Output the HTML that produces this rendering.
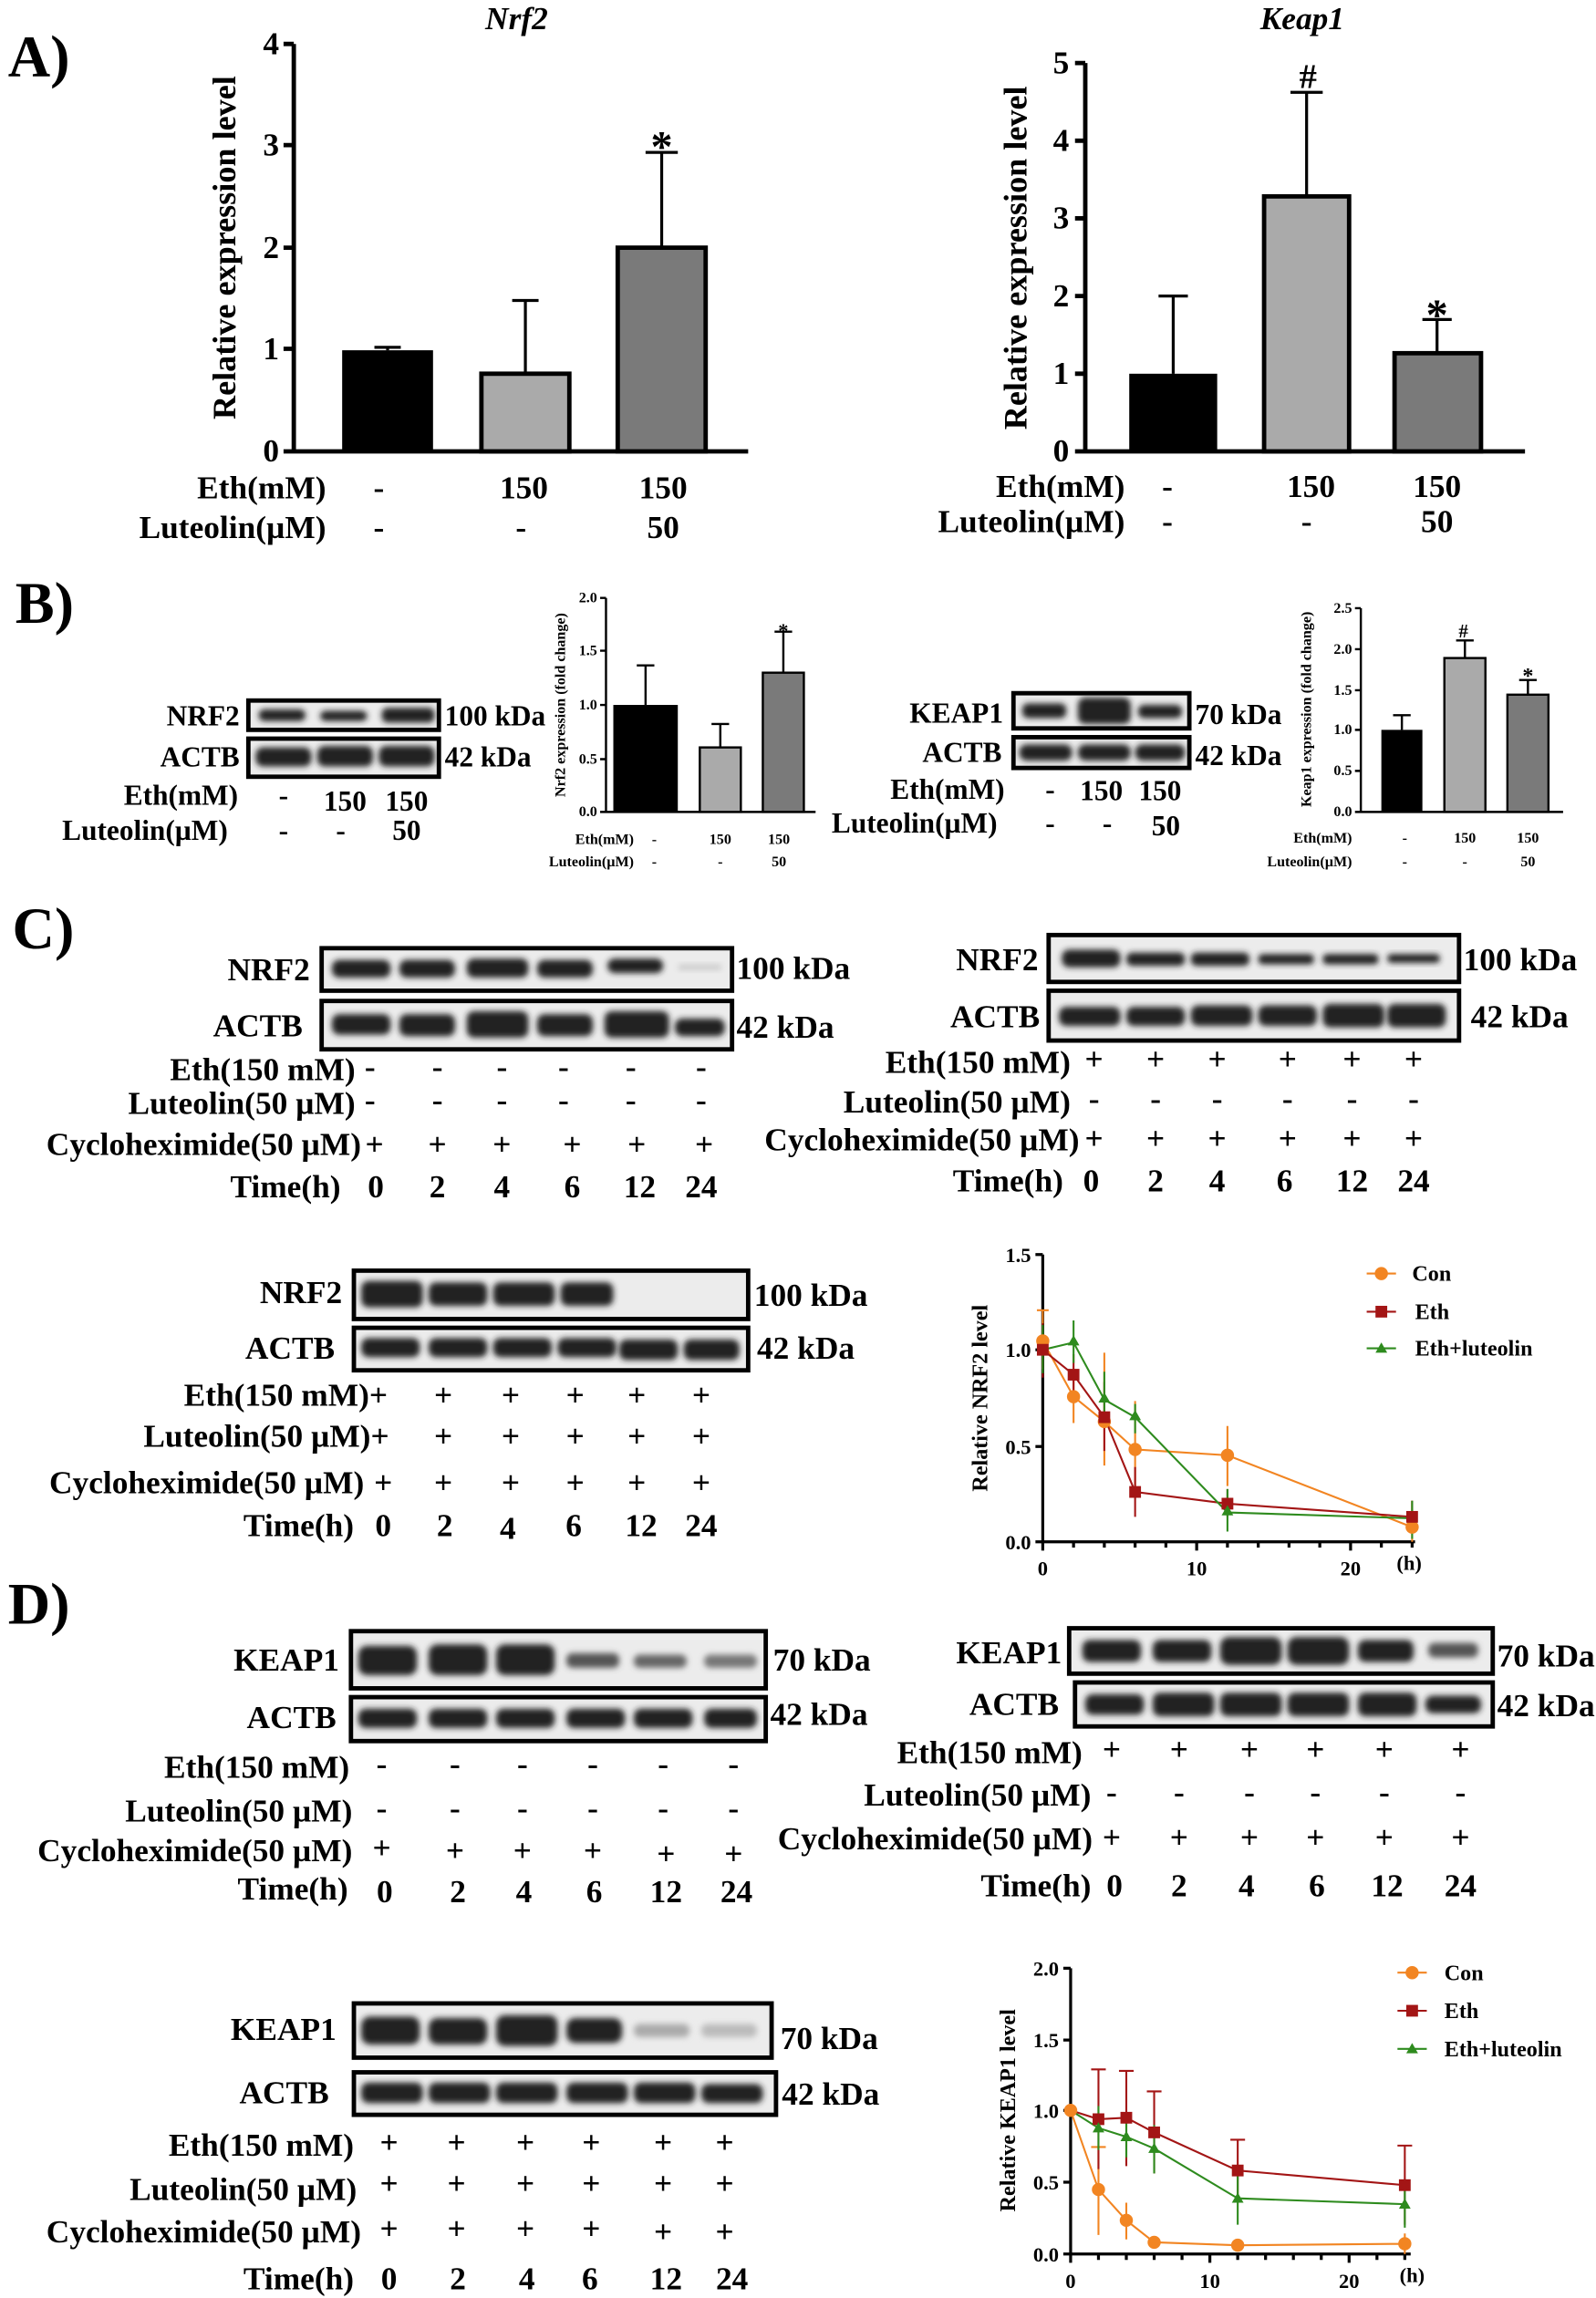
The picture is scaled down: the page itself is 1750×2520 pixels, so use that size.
<!DOCTYPE html>
<html><head><meta charset="utf-8"><style>
html,body{margin:0;padding:0;background:#fff}
svg{display:block}
text{font-family:"Liberation Serif",serif;font-weight:bold;fill:#000}
.t{font-size:22px}
.u{font-size:19.5px}
.s{font-size:10px}
.r{text-anchor:end}
.m{text-anchor:middle}
.ax{stroke:#000;stroke-width:3;fill:none}
.ax2{stroke:#000;stroke-width:1.5;fill:none}
.box{fill:#ececec;stroke:#000;stroke-width:3}
.b{fill:#222;filter:url(#bl)}
</style></head><body>
<svg width="1750" height="2520" viewBox="0 0 1088 1568" xmlns="http://www.w3.org/2000/svg">
<defs><filter id="bl" x="-20%" y="-50%" width="140%" height="200%"><feGaussianBlur stdDeviation="2"/></filter></defs>
<rect width="1088" height="1568" fill="#fff"/>

<!-- A -->
<text x="5" y="52" style="font-size:40px">A)</text>
<text x="352" y="20" class="m" style="font-size:22px;font-style:italic">Nrf2</text>
<path class="ax" d="M200,30V308H510M193,30H200M193,99H200M193,169H200M193,238H200M193,308H200"/>
<text x="190" y="37" class="t r">4</text><text x="190" y="106" class="t r">3</text><text x="190" y="176" class="t r">2</text><text x="190" y="245" class="t r">1</text><text x="190" y="315" class="t r">0</text>
<text transform="translate(160,169) rotate(-90)" class="m" style="font-size:22.5px">Relative expression level</text>
<rect x="233" y="239" width="62" height="69" fill="#000"/>
<rect x="328" y="255" width="60" height="53" fill="#aaa" stroke="#000" stroke-width="3"/>
<rect x="421" y="169" width="60" height="139" fill="#7a7a7a" stroke="#000" stroke-width="3"/>
<path class="ax2" d="M264,239V237M255,237H273M358,255V205M349,205H367M451,169V104M440,104H462" style="stroke-width:2"/>
<text x="451" y="110" class="m" style="font-size:30px">*</text>
<text x="222" y="340" class="t r">Eth(mM)</text><text x="258" y="340" class="t m">-</text><text x="357" y="340" class="t m">150</text><text x="452" y="340" class="t m">150</text>
<text x="222" y="367" class="t r">Luteolin(µM)</text><text x="258" y="367" class="t m">-</text><text x="355" y="367" class="t m">-</text><text x="452" y="367" class="t m">50</text>

<text x="888" y="20" class="m" style="font-size:22px;font-style:italic">Keap1</text>
<path class="ax" d="M740,43V308H1040M733,43H740M733,96H740M733,149H740M733,202H740M733,255H740M733,308H740"/>
<text x="729" y="50" class="t r">5</text><text x="729" y="103" class="t r">4</text><text x="729" y="156" class="t r">3</text><text x="729" y="209" class="t r">2</text><text x="729" y="262" class="t r">1</text><text x="729" y="315" class="t r">0</text>
<text transform="translate(700,176) rotate(-90)" class="m" style="font-size:22.5px">Relative expression level</text>
<rect x="770" y="255" width="60" height="53" fill="#000"/>
<rect x="862" y="134" width="58" height="174" fill="#aaa" stroke="#000" stroke-width="3"/>
<rect x="951" y="241" width="59" height="67" fill="#7a7a7a" stroke="#000" stroke-width="3"/>
<path class="ax2" d="M800,255V202M790,202H810M891,134V63M880,63H902M980,241V218M970,218H990" style="stroke-width:2"/>
<text x="892" y="60" class="m" style="font-size:24px">#</text>
<text x="980" y="225" class="m" style="font-size:30px">*</text>
<text x="767" y="339" class="t r">Eth(mM)</text><text x="796" y="339" class="t m">-</text><text x="894" y="339" class="t m">150</text><text x="980" y="339" class="t m">150</text>
<text x="767" y="363" class="t r">Luteolin(µM)</text><text x="796" y="363" class="t m">-</text><text x="891" y="363" class="t m">-</text><text x="980" y="363" class="t m">50</text>

<!-- B -->
<text x="10" y="425" style="font-size:40px">B)</text>
<rect x="169" y="478" width="130" height="20" class="box"/>
<rect x="176" y="484" width="32" height="8" rx="4" class="b"/><rect x="218" y="485" width="32" height="7" rx="4" class="b"/><rect x="260" y="483" width="36" height="10" rx="4" class="b"/>
<rect x="169" y="504" width="130" height="26" class="box"/>
<rect x="174" y="510" width="38" height="13" rx="5" class="b"/><rect x="216" y="509" width="38" height="14" rx="5" class="b"/><rect x="258" y="509" width="38" height="14" rx="5" class="b"/>
<text x="163" y="495" class="u r">NRF2</text><text x="163" y="523" class="u r">ACTB</text>
<text x="303" y="495" class="u">100 kDa</text><text x="303" y="523" class="u">42 kDa</text>
<text x="162" y="549" class="u r">Eth(mM)</text><text x="193" y="549" class="u m">-</text><text x="235" y="553" class="u m">150</text><text x="277" y="553" class="u m">150</text>
<text x="155" y="573" class="u r">Luteolin(µM)</text><text x="193" y="573" class="u m">-</text><text x="232" y="573" class="u m">-</text><text x="277" y="573" class="u m">50</text>

<path class="ax2" d="M413,408V554H556M409,408H413M409,444H413M409,481H413M409,518H413M409,554H413"/>
<text x="407" y="411" class="s r">2.0</text><text x="407" y="447" class="s r">1.5</text><text x="407" y="484" class="s r">1.0</text><text x="407" y="521" class="s r">0.5</text><text x="407" y="557" class="s r">0.0</text>
<text transform="translate(385,481) rotate(-90)" class="s m">Nrf2 expression (fold change)</text>
<rect x="418" y="481" width="44" height="73" fill="#000"/>
<rect x="477" y="510" width="28" height="44" fill="#aaa" stroke="#000" stroke-width="1.5"/>
<rect x="520" y="459" width="28" height="95" fill="#7a7a7a" stroke="#000" stroke-width="1.5"/>
<path class="ax2" d="M440,481V454M434,454H446M491,510V494M485,494H497M534,459V431M528,431H540"/>
<text x="534" y="435" class="m" style="font-size:14px">*</text>
<text x="432" y="576" class="s r">Eth(mM)</text><text x="446" y="576" class="s m">-</text><text x="491" y="576" class="s m">150</text><text x="531" y="576" class="s m">150</text>
<text x="432" y="591" class="s r">Luteolin(µM)</text><text x="446" y="591" class="s m">-</text><text x="491" y="591" class="s m">-</text><text x="531" y="591" class="s m">50</text>

<rect x="691" y="473" width="120" height="24" class="box"/>
<rect x="697" y="480" width="30" height="10" rx="4" class="b"/><rect x="735" y="476" width="36" height="18" rx="5" class="b"/><rect x="776" y="481" width="30" height="9" rx="4" class="b"/>
<rect x="691" y="503" width="120" height="21" class="box"/>
<rect x="695" y="508" width="36" height="11" rx="5" class="b"/><rect x="735" y="508" width="36" height="11" rx="5" class="b"/><rect x="774" y="508" width="34" height="11" rx="5" class="b"/>
<text x="684" y="493" class="u r">KEAP1</text><text x="683" y="520" class="u r">ACTB</text>
<text x="815" y="494" class="u">70 kDa</text><text x="815" y="522" class="u">42 kDa</text>
<text x="685" y="545" class="u r">Eth(mM)</text><text x="716" y="545" class="u m">-</text><text x="751" y="546" class="u m">150</text><text x="791" y="546" class="u m">150</text>
<text x="680" y="568" class="u r">Luteolin(µM)</text><text x="716" y="568" class="u m">-</text><text x="755" y="568" class="u m">-</text><text x="795" y="570" class="u m">50</text>

<path class="ax2" d="M928,415V554H1066M924,415H928M924,443H928M924,471H928M924,498H928M924,526H928M924,554H928"/>
<text x="922" y="418" class="s r">2.5</text><text x="922" y="446" class="s r">2.0</text><text x="922" y="474" class="s r">1.5</text><text x="922" y="501" class="s r">1.0</text><text x="922" y="529" class="s r">0.5</text><text x="922" y="557" class="s r">0.0</text>
<text transform="translate(894,484) rotate(-90)" class="s m">Keap1 expression (fold change)</text>
<rect x="942" y="498" width="28" height="56" fill="#000"/>
<rect x="985" y="449" width="28" height="105" fill="#aaa" stroke="#000" stroke-width="1.5"/>
<rect x="1028" y="474" width="28" height="80" fill="#7a7a7a" stroke="#000" stroke-width="1.5"/>
<path class="ax2" d="M956,498V488M950,488H962M999,449V437M993,437H1005M1042,474V464M1036,464H1048"/>
<text x="998" y="435" class="m" style="font-size:13px">#</text><text x="1042" y="466" class="m" style="font-size:15px">*</text>
<text x="922" y="575" class="s r">Eth(mM)</text><text x="958" y="575" class="s m">-</text><text x="999" y="575" class="s m">150</text><text x="1042" y="575" class="s m">150</text>
<text x="922" y="591" class="s r">Luteolin(µM)</text><text x="958" y="591" class="s m">-</text><text x="999" y="591" class="s m">-</text><text x="1042" y="591" class="s m">50</text>

<!-- C -->
<text x="8" y="647" style="font-size:40px">C)</text>
<rect x="219" y="647" width="280" height="29" class="box"/>
<rect x="226" y="655" width="40" height="12" rx="5" class="b"/><rect x="272" y="655" width="38" height="12" rx="5" class="b"/><rect x="318" y="654" width="42" height="13" rx="5" class="b"/><rect x="366" y="655" width="38" height="12" rx="5" class="b"/><rect x="414" y="654" width="38" height="10" rx="5" class="b"/><rect x="462" y="658" width="30" height="4" rx="2" style="fill:#ccc;filter:url(#bl)"/>
<rect x="219" y="683" width="280" height="33" class="box"/>
<rect x="226" y="692" width="40" height="14" rx="5" class="b"/><rect x="272" y="692" width="38" height="15" rx="5" class="b"/><rect x="318" y="690" width="42" height="18" rx="5" class="b"/><rect x="366" y="692" width="38" height="15" rx="5" class="b"/><rect x="412" y="690" width="44" height="18" rx="5" class="b"/><rect x="460" y="695" width="34" height="12" rx="5" class="b"/>
<text x="211" y="669" class="t r">NRF2</text><text x="206" y="707" class="t r">ACTB</text>
<text x="502" y="668" class="t">100 kDa</text><text x="502" y="708" class="t">42 kDa</text>
<text x="242" y="737" class="t r">Eth(150 mM)</text><text x="242" y="760" class="t r">Luteolin(50 µM)</text><text x="246" y="788" class="t r">Cycloheximide(50 µM)</text><text x="232" y="817" class="t r">Time(h)</text>
<text x="252" y="735" class="t m">-</text><text x="298" y="735" class="t m">-</text><text x="342" y="735" class="t m">-</text><text x="384" y="735" class="t m">-</text><text x="430" y="735" class="t m">-</text><text x="478" y="735" class="t m">-</text>
<text x="252" y="758" class="t m">-</text><text x="298" y="758" class="t m">-</text><text x="342" y="758" class="t m">-</text><text x="384" y="758" class="t m">-</text><text x="430" y="758" class="t m">-</text><text x="478" y="758" class="t m">-</text>
<text x="255" y="788" class="t m">+</text><text x="298" y="788" class="t m">+</text><text x="342" y="788" class="t m">+</text><text x="390" y="788" class="t m">+</text><text x="434" y="788" class="t m">+</text><text x="480" y="788" class="t m">+</text>
<text x="256" y="817" class="t m">0</text><text x="298" y="817" class="t m">2</text><text x="342" y="817" class="t m">4</text><text x="390" y="817" class="t m">6</text><text x="436" y="817" class="t m">12</text><text x="478" y="817" class="t m">24</text>

<rect x="715" y="638" width="280" height="32" class="box"/>
<rect x="724" y="648" width="40" height="12" rx="5" class="b"/><rect x="768" y="650" width="40" height="9" rx="4" class="b"/><rect x="812" y="650" width="40" height="9" rx="4" class="b"/><rect x="858" y="651" width="38" height="7" rx="3" class="b"/><rect x="902" y="651" width="38" height="7" rx="3" class="b"/><rect x="946" y="651" width="36" height="6" rx="3" class="b"/>
<rect x="715" y="676" width="280" height="34" class="box"/>
<rect x="722" y="687" width="42" height="13" rx="5" class="b"/><rect x="768" y="687" width="40" height="13" rx="5" class="b"/><rect x="812" y="686" width="42" height="14" rx="5" class="b"/><rect x="858" y="686" width="40" height="14" rx="5" class="b"/><rect x="902" y="685" width="42" height="16" rx="5" class="b"/><rect x="946" y="685" width="40" height="16" rx="5" class="b"/>
<text x="708" y="662" class="t r">NRF2</text><text x="709" y="701" class="t r">ACTB</text>
<text x="998" y="662" class="t">100 kDa</text><text x="1003" y="701" class="t">42 kDa</text>
<text x="730" y="732" class="t r">Eth(150 mM)</text><text x="730" y="759" class="t r">Luteolin(50 µM)</text><text x="736" y="785" class="t r">Cycloheximide(50 µM)</text><text x="725" y="813" class="t r">Time(h)</text>
<text x="746" y="730" class="t m">+</text><text x="788" y="730" class="t m">+</text><text x="830" y="730" class="t m">+</text><text x="878" y="730" class="t m">+</text><text x="922" y="730" class="t m">+</text><text x="964" y="730" class="t m">+</text>
<text x="746" y="757" class="t m">-</text><text x="788" y="757" class="t m">-</text><text x="830" y="757" class="t m">-</text><text x="878" y="757" class="t m">-</text><text x="922" y="757" class="t m">-</text><text x="964" y="757" class="t m">-</text>
<text x="746" y="784" class="t m">+</text><text x="788" y="784" class="t m">+</text><text x="830" y="784" class="t m">+</text><text x="878" y="784" class="t m">+</text><text x="922" y="784" class="t m">+</text><text x="964" y="784" class="t m">+</text>
<text x="744" y="813" class="t m">0</text><text x="788" y="813" class="t m">2</text><text x="830" y="813" class="t m">4</text><text x="876" y="813" class="t m">6</text><text x="922" y="813" class="t m">12</text><text x="964" y="813" class="t m">24</text>

<rect x="241" y="867" width="269" height="33" class="box"/>
<rect x="246" y="874" width="42" height="18" rx="5" class="b"/><rect x="292" y="875" width="40" height="16" rx="5" class="b"/><rect x="336" y="875" width="42" height="16" rx="5" class="b"/><rect x="382" y="875" width="36" height="16" rx="5" class="b"/>
<rect x="241" y="906" width="269" height="29" class="box"/>
<rect x="246" y="913" width="40" height="13" rx="5" class="b"/><rect x="292" y="913" width="40" height="13" rx="5" class="b"/><rect x="336" y="913" width="40" height="13" rx="5" class="b"/><rect x="380" y="913" width="40" height="13" rx="5" class="b"/><rect x="422" y="914" width="40" height="14" rx="5" class="b"/><rect x="466" y="914" width="38" height="14" rx="5" class="b"/>
<text x="233" y="889" class="t r">NRF2</text><text x="228" y="927" class="t r">ACTB</text>
<text x="514" y="891" class="t">100 kDa</text><text x="516" y="927" class="t">42 kDa</text>
<text x="264" y="959" class="t r">Eth(150 mM)+</text><text x="265" y="987" class="t r">Luteolin(50 µM)+</text><text x="248" y="1019" class="t r">Cycloheximide(50 µM)</text><text x="241" y="1048" class="t r">Time(h)</text>
<text x="302" y="959" class="t m">+</text><text x="348" y="959" class="t m">+</text><text x="392" y="959" class="t m">+</text><text x="434" y="959" class="t m">+</text><text x="478" y="959" class="t m">+</text>
<text x="302" y="987" class="t m">+</text><text x="348" y="987" class="t m">+</text><text x="392" y="987" class="t m">+</text><text x="434" y="987" class="t m">+</text><text x="478" y="987" class="t m">+</text>
<text x="261" y="1019" class="t m">+</text><text x="302" y="1019" class="t m">+</text><text x="348" y="1019" class="t m">+</text><text x="392" y="1019" class="t m">+</text><text x="434" y="1019" class="t m">+</text><text x="478" y="1019" class="t m">+</text>
<text x="261" y="1048" class="t m">0</text><text x="303" y="1048" class="t m">2</text><text x="346" y="1050" class="t m">4</text><text x="391" y="1048" class="t m">6</text><text x="437" y="1048" class="t m">12</text><text x="478" y="1048" class="t m">24</text>

<!-- line chart 1 -->
<path class="ax" style="stroke-width:2" d="M711,856V1052H965M706,856H711M706,921H711M706,987H711M706,1052H711M711,1052v6M732,1052v4M753,1052v4M774,1052v4M795,1052v4M816,1052v6M837,1052v4M858,1052v4M879,1052v4M900,1052v4M921,1052v6M942,1052v4M963,1052v4"/>
<text x="703" y="861" class="r" style="font-size:14px">1.5</text><text x="703" y="926" class="r" style="font-size:14px">1.0</text><text x="703" y="992" class="r" style="font-size:14px">0.5</text><text x="703" y="1057" class="r" style="font-size:14px">0.0</text>
<text x="711" y="1075" class="m" style="font-size:14px">0</text><text x="816" y="1075" class="m" style="font-size:14px">10</text><text x="921" y="1075" class="m" style="font-size:14px">20</text><text x="961" y="1071" class="m" style="font-size:14px">(h)</text>
<text transform="translate(673,954) rotate(-90)" class="m" style="font-size:15px">Relative NRF2 level</text>
<g fill="none" stroke-width="1.3">
<path stroke="#f28522" d="M711,915L732,953L753,970L774,989L837,993L963,1042M711,894V934M707,894H715M732,935V971M753,923V1000M774,956V1018M837,973V1014M963,1024V1052"/>
<path stroke="#a31515" d="M711,921L732,938L753,967L774,1018L837,1026L963,1035M711,903V940M732,924V951M753,943V990M774,1001V1035M837,1016V1035M963,1024V1045"/>
<path stroke="#2e8b1e" d="M711,921L732,916L753,955L774,967L837,1032L963,1036M711,904V937M732,901V930M753,936V974M774,958V978M837,1016V1045M963,1024V1050"/>
</g>
<g fill="#f28522"><circle cx="711" cy="915" r="4.5"/><circle cx="732" cy="953" r="4.5"/><circle cx="753" cy="970" r="4.5"/><circle cx="774" cy="989" r="4.5"/><circle cx="837" cy="993" r="4.5"/><circle cx="963" cy="1042" r="4.5"/></g>
<g fill="#a31515"><rect x="707" y="917" width="8" height="8"/><rect x="728" y="934" width="8" height="8"/><rect x="749" y="963" width="8" height="8"/><rect x="770" y="1014" width="8" height="8"/><rect x="833" y="1022" width="8" height="8"/><rect x="959" y="1031" width="8" height="8"/></g>
<g fill="#2e8b1e"><path d="M732,911l4,7h-8zM753,950l4,7h-8zM774,962l4,7h-8zM837,1027l4,7h-8z"/></g>
<path d="M932,869H952" stroke="#f28522" stroke-width="1.3"/><circle cx="942" cy="869" r="4.5" fill="#f28522"/><text x="963" y="874" style="font-size:15px">Con</text>
<path d="M932,895H952" stroke="#a31515" stroke-width="1.3"/><rect x="938" y="891" width="8" height="8" fill="#a31515"/><text x="965" y="900" style="font-size:15px">Eth</text>
<path d="M932,920H952" stroke="#2e8b1e" stroke-width="1.3"/><path d="M942,916l4,7h-8z" fill="#2e8b1e"/><text x="965" y="925" style="font-size:15px">Eth+luteolin</text>

<!-- D -->
<text x="5" y="1108" style="font-size:40px">D)</text>
<rect x="239" y="1113" width="283" height="39" class="box"/>
<rect x="244" y="1123" width="40" height="20" rx="6" class="b"/><rect x="292" y="1122" width="40" height="21" rx="6" class="b"/><rect x="338" y="1122" width="40" height="21" rx="6" class="b"/><rect x="386" y="1128" width="36" height="10" rx="4" style="fill:#555;filter:url(#bl)"/><rect x="432" y="1129" width="36" height="9" rx="4" style="fill:#666;filter:url(#bl)"/><rect x="480" y="1129" width="36" height="9" rx="4" style="fill:#777;filter:url(#bl)"/>
<rect x="239" y="1158" width="283" height="30" class="box"/>
<rect x="244" y="1166" width="40" height="13" rx="5" class="b"/><rect x="292" y="1166" width="40" height="13" rx="5" class="b"/><rect x="338" y="1166" width="40" height="13" rx="5" class="b"/><rect x="386" y="1166" width="40" height="13" rx="5" class="b"/><rect x="432" y="1166" width="40" height="13" rx="5" class="b"/><rect x="480" y="1166" width="36" height="13" rx="5" class="b"/>
<text x="231" y="1140" class="t r">KEAP1</text><text x="229" y="1179" class="t r">ACTB</text>
<text x="527" y="1140" class="t">70 kDa</text><text x="525" y="1177" class="t">42 kDa</text>
<text x="238" y="1213" class="t r">Eth(150 mM)</text><text x="240" y="1243" class="t r">Luteolin(50 µM)</text><text x="240" y="1270" class="t r">Cycloheximide(50 µM)</text><text x="237" y="1296" class="t r">Time(h)</text>
<text x="260" y="1211" class="t m">-</text><text x="310" y="1211" class="t m">-</text><text x="356" y="1211" class="t m">-</text><text x="404" y="1211" class="t m">-</text><text x="452" y="1211" class="t m">-</text><text x="500" y="1211" class="t m">-</text>
<text x="260" y="1241" class="t m">-</text><text x="310" y="1241" class="t m">-</text><text x="356" y="1241" class="t m">-</text><text x="404" y="1241" class="t m">-</text><text x="452" y="1241" class="t m">-</text><text x="500" y="1241" class="t m">-</text>
<text x="260" y="1268" class="t m">+</text><text x="310" y="1270" class="t m">+</text><text x="356" y="1270" class="t m">+</text><text x="404" y="1270" class="t m">+</text><text x="454" y="1272" class="t m">+</text><text x="500" y="1272" class="t m">+</text>
<text x="262" y="1298" class="t m">0</text><text x="312" y="1298" class="t m">2</text><text x="357" y="1298" class="t m">4</text><text x="405" y="1298" class="t m">6</text><text x="454" y="1298" class="t m">12</text><text x="502" y="1298" class="t m">24</text>

<rect x="729" y="1111" width="289" height="31" class="box"/>
<rect x="738" y="1119" width="40" height="15" rx="5" class="b"/><rect x="786" y="1119" width="40" height="15" rx="5" class="b"/><rect x="832" y="1117" width="42" height="19" rx="6" class="b"/><rect x="878" y="1117" width="42" height="19" rx="6" class="b"/><rect x="926" y="1119" width="38" height="15" rx="5" class="b"/><rect x="974" y="1121" width="34" height="10" rx="4" style="fill:#555;filter:url(#bl)"/>
<rect x="733" y="1148" width="285" height="30" class="box"/>
<rect x="740" y="1156" width="40" height="14" rx="5" class="b"/><rect x="786" y="1155" width="42" height="16" rx="5" class="b"/><rect x="832" y="1155" width="42" height="16" rx="5" class="b"/><rect x="878" y="1155" width="42" height="16" rx="5" class="b"/><rect x="926" y="1155" width="40" height="16" rx="5" class="b"/><rect x="972" y="1157" width="38" height="12" rx="5" class="b"/>
<text x="724" y="1135" class="t r">KEAP1</text><text x="722" y="1170" class="t r">ACTB</text>
<text x="1021" y="1137" class="t">70 kDa</text><text x="1021" y="1171" class="t">42 kDa</text>
<text x="738" y="1203" class="t r">Eth(150 mM)</text><text x="744" y="1232" class="t r">Luteolin(50 µM)</text><text x="745" y="1262" class="t r">Cycloheximide(50 µM)</text><text x="744" y="1294" class="t r">Time(h)</text>
<text x="758" y="1201" class="t m">+</text><text x="804" y="1201" class="t m">+</text><text x="852" y="1201" class="t m">+</text><text x="897" y="1201" class="t m">+</text><text x="944" y="1201" class="t m">+</text><text x="996" y="1201" class="t m">+</text>
<text x="758" y="1230" class="t m">-</text><text x="804" y="1230" class="t m">-</text><text x="852" y="1230" class="t m">-</text><text x="897" y="1230" class="t m">-</text><text x="944" y="1230" class="t m">-</text><text x="996" y="1230" class="t m">-</text>
<text x="758" y="1261" class="t m">+</text><text x="804" y="1261" class="t m">+</text><text x="852" y="1261" class="t m">+</text><text x="897" y="1261" class="t m">+</text><text x="944" y="1261" class="t m">+</text><text x="996" y="1261" class="t m">+</text>
<text x="760" y="1294" class="t m">0</text><text x="804" y="1294" class="t m">2</text><text x="850" y="1294" class="t m">4</text><text x="898" y="1294" class="t m">6</text><text x="946" y="1294" class="t m">12</text><text x="996" y="1294" class="t m">24</text>

<rect x="241" y="1367" width="285" height="37" class="box"/>
<rect x="246" y="1376" width="40" height="19" rx="6" class="b"/><rect x="292" y="1377" width="40" height="18" rx="6" class="b"/><rect x="338" y="1375" width="42" height="21" rx="6" class="b"/><rect x="386" y="1377" width="38" height="17" rx="6" class="b"/><rect x="432" y="1381" width="38" height="9" rx="4" style="fill:#aaa;filter:url(#bl)"/><rect x="478" y="1381" width="38" height="9" rx="4" style="fill:#bbb;filter:url(#bl)"/>
<rect x="241" y="1414" width="288" height="29" class="box"/>
<rect x="246" y="1421" width="42" height="14" rx="5" class="b"/><rect x="292" y="1421" width="42" height="14" rx="5" class="b"/><rect x="338" y="1421" width="42" height="14" rx="5" class="b"/><rect x="386" y="1421" width="42" height="14" rx="5" class="b"/><rect x="432" y="1421" width="42" height="14" rx="5" class="b"/><rect x="478" y="1422" width="42" height="13" rx="5" class="b"/>
<text x="229" y="1392" class="t r">KEAP1</text><text x="224" y="1435" class="t r">ACTB</text>
<text x="532" y="1398" class="t">70 kDa</text><text x="533" y="1436" class="t">42 kDa</text>
<text x="241" y="1471" class="t r">Eth(150 mM)</text><text x="243" y="1501" class="t r">Luteolin(50 µM)</text><text x="246" y="1530" class="t r">Cycloheximide(50 µM)</text><text x="241" y="1562" class="t r">Time(h)</text>
<text x="265" y="1469" class="t m">+</text><text x="311" y="1469" class="t m">+</text><text x="358" y="1469" class="t m">+</text><text x="403" y="1469" class="t m">+</text><text x="452" y="1469" class="t m">+</text><text x="494" y="1469" class="t m">+</text>
<text x="265" y="1497" class="t m">+</text><text x="311" y="1497" class="t m">+</text><text x="358" y="1497" class="t m">+</text><text x="403" y="1497" class="t m">+</text><text x="452" y="1497" class="t m">+</text><text x="494" y="1497" class="t m">+</text>
<text x="265" y="1528" class="t m">+</text><text x="311" y="1528" class="t m">+</text><text x="358" y="1528" class="t m">+</text><text x="403" y="1528" class="t m">+</text><text x="452" y="1530" class="t m">+</text><text x="494" y="1530" class="t m">+</text>
<text x="265" y="1562" class="t m">0</text><text x="312" y="1562" class="t m">2</text><text x="359" y="1562" class="t m">4</text><text x="402" y="1562" class="t m">6</text><text x="454" y="1562" class="t m">12</text><text x="499" y="1562" class="t m">24</text>

<!-- line chart 2 -->
<path class="ax" style="stroke-width:2" d="M730,1343V1538H962M725,1343H730M725,1392H730M725,1440H730M725,1489H730M725,1538H730M730,1538v6M749,1538v4M768,1538v4M787,1538v4M806,1538v4M825,1538v6M844,1538v4M863,1538v4M882,1538v4M901,1538v4M920,1538v6M939,1538v4M958,1538v4"/>
<text x="722" y="1348" class="r" style="font-size:14px">2.0</text><text x="722" y="1397" class="r" style="font-size:14px">1.5</text><text x="722" y="1445" class="r" style="font-size:14px">1.0</text><text x="722" y="1494" class="r" style="font-size:14px">0.5</text><text x="722" y="1543" class="r" style="font-size:14px">0.0</text>
<text x="730" y="1561" class="m" style="font-size:14px">0</text><text x="825" y="1561" class="m" style="font-size:14px">10</text><text x="920" y="1561" class="m" style="font-size:14px">20</text><text x="963" y="1557" class="m" style="font-size:14px">(h)</text>
<text transform="translate(692,1440) rotate(-90)" class="m" style="font-size:15px">Relative KEAP1 level</text>
<g fill="none" stroke-width="1.3">
<path stroke="#f28522" d="M730,1440L749,1494L768,1515L787,1530L844,1532L958,1531M749,1465V1525M744,1465H754M768,1503V1528M787,1526V1534M958,1524V1538"/>
<path stroke="#a31515" d="M730,1440L749,1446L768,1445L787,1455L844,1481L958,1491M749,1412V1480M744,1412H754M768,1413V1478M763,1413H773M787,1427V1483M782,1427H792M844,1460V1502M839,1460H849M958,1464V1518M953,1464H963"/>
<path stroke="#2e8b1e" d="M730,1440L749,1452L768,1458L787,1466L844,1500L958,1504M749,1437V1467M768,1444V1472M787,1450V1483M844,1482V1518M958,1488V1520"/>
</g>
<g fill="#f28522"><circle cx="730" cy="1440" r="4.5"/><circle cx="749" cy="1494" r="4.5"/><circle cx="768" cy="1515" r="4.5"/><circle cx="787" cy="1530" r="4.5"/><circle cx="844" cy="1532" r="4.5"/><circle cx="958" cy="1531" r="4.5"/></g>
<g fill="#a31515"><rect x="745" y="1442" width="8" height="8"/><rect x="764" y="1441" width="8" height="8"/><rect x="783" y="1451" width="8" height="8"/><rect x="840" y="1477" width="8" height="8"/><rect x="954" y="1487" width="8" height="8"/></g>
<g fill="#2e8b1e"><path d="M749,1448l4,7h-8zM768,1454l4,7h-8zM787,1462l4,7h-8zM844,1496l4,7h-8zM958,1500l4,7h-8z"/></g>
<path d="M953,1346H973" stroke="#f28522" stroke-width="1.3"/><circle cx="963" cy="1346" r="4.5" fill="#f28522"/><text x="985" y="1351" style="font-size:15px">Con</text>
<path d="M953,1372H973" stroke="#a31515" stroke-width="1.3"/><rect x="959" y="1368" width="8" height="8" fill="#a31515"/><text x="985" y="1377" style="font-size:15px">Eth</text>
<path d="M953,1398H973" stroke="#2e8b1e" stroke-width="1.3"/><path d="M963,1394l4,7h-8z" fill="#2e8b1e"/><text x="985" y="1403" style="font-size:15px">Eth+luteolin</text>
</svg>
</body></html>
